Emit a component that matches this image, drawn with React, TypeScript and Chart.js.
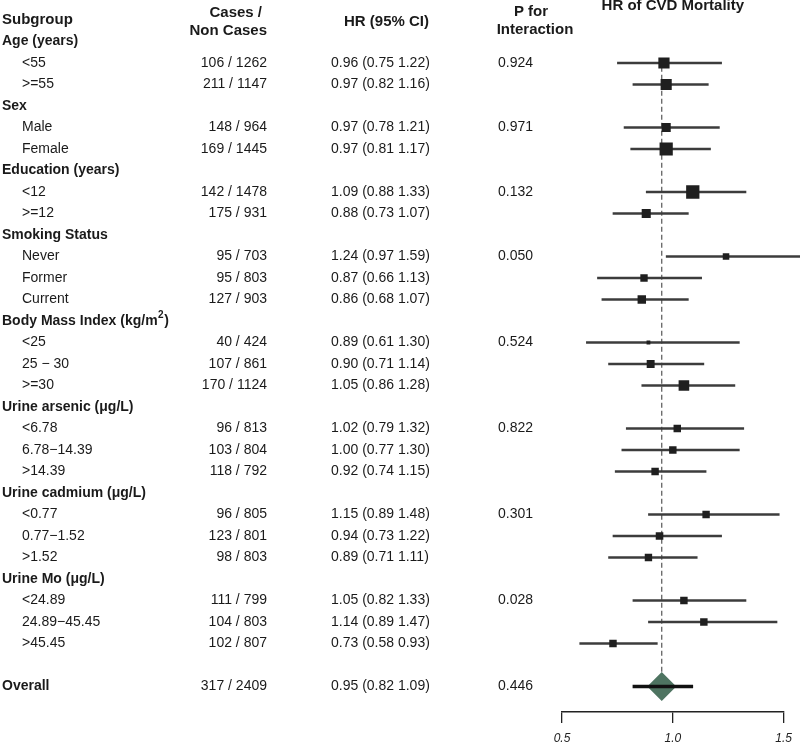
import React, { useEffect, useRef } from 'react';
import { Chart, registerables } from 'chart.js';

Chart.register(...registerables);

// ---------- data ----------
const groupNames = [
  'Age (years)',
  'Sex',
  'Education (years)',
  'Smoking Status',
  'Body Mass Index (kg/m²)',
  'Urine arsenic (μg/L)',
  'Urine cadmium (μg/L)',
  'Urine Mo (μg/L)',
];
const groupSizes = [2, 2, 2, 3, 3, 3, 3, 3];
const pInteraction = ['0.924', '0.971', '0.132', '0.050', '0.524', '0.822', '0.301', '0.028'];

const subgroups = [
  '<55', '>=55',
  'Male', 'Female',
  '<12', '>=12',
  'Never', 'Former', 'Current',
  '<25', '25 − 30', '>=30',
  '<6.78', '6.78−14.39', '>14.39',
  '<0.77', '0.77−1.52', '>1.52',
  '<24.89', '24.89−45.45', '>45.45',
];
const cases = [106, 211, 148, 169, 142, 175, 95, 95, 127, 40, 107, 170, 96, 103, 118, 96, 123, 98, 111, 104, 102];
const nonCases = [1262, 1147, 964, 1445, 1478, 931, 703, 803, 903, 424, 861, 1124, 813, 804, 792, 805, 801, 803, 799, 803, 807];
const hr = [0.96, 0.97, 0.97, 0.97, 1.09, 0.88, 1.24, 0.87, 0.86, 0.89, 0.90, 1.05, 1.02, 1.00, 0.92, 1.15, 0.94, 0.89, 1.05, 1.14, 0.73];
const lower = [0.75, 0.82, 0.78, 0.81, 0.88, 0.73, 0.97, 0.66, 0.68, 0.61, 0.71, 0.86, 0.79, 0.77, 0.74, 0.89, 0.73, 0.71, 0.82, 0.89, 0.58];
const upper = [1.22, 1.16, 1.21, 1.17, 1.33, 1.07, 1.59, 1.13, 1.07, 1.30, 1.14, 1.28, 1.32, 1.30, 1.15, 1.48, 1.22, 1.11, 1.33, 1.47, 0.93];

const overallLabel = 'Overall';
const overallCases = 317;
const overallNonCases = 2409;
const overallHR = 0.95;
const overallLower = 0.82;
const overallUpper = 1.09;
const overallP = '0.446';

const xTicks = [0.5, 1.0, 1.5];
const plotTitle = 'HR of CVD Mortality';

// ---------- row layout (built from data) ----------
type Row = { kind: 'group' | 'sub'; label: string; row: number; idx: number; p?: string };
const rows: Row[] = [];
const subRow: number[] = [];
{
  let r = 1;
  let k = 0;
  groupNames.forEach((g, gi) => {
    rows.push({ kind: 'group', label: g, row: r, idx: gi });
    r++;
    for (let j = 0; j < groupSizes[gi]; j++) {
      rows.push({ kind: 'sub', label: subgroups[k], row: r, idx: k, p: j === 0 ? pInteraction[gi] : undefined });
      subRow[k] = r;
      r++;
      k++;
    }
  });
}
const overallRow = subRow[subRow.length - 1] + 2;

const FONT = '"Liberation Sans", Arial, Helvetica, sans-serif';
const fmt = (v: number) => v.toFixed(2);

const boxSide = (n: number) => n / 122;

// draws text, rendering "²" as a raised small "2"
function drawLabel(ctx: CanvasRenderingContext2D, text: string, x: number, y: number, size: number, bold: boolean) {
  const w = bold ? 'bold ' : '';
  const parts = text.split('²');
  if (parts.length === 1) {
    ctx.font = `${w}${size}px ${FONT}`;
    ctx.fillText(text, x, y);
    return;
  }
  let cx = x;
  parts.forEach((p, i) => {
    ctx.font = `${w}${size}px ${FONT}`;
    ctx.fillText(p, cx, y);
    cx += ctx.measureText(p).width;
    if (i < parts.length - 1) {
      ctx.font = `${w}${Math.round(size * 0.68)}px ${FONT}`;
      ctx.fillText('2', cx + 0.5, y - size * 0.38);
      cx += ctx.measureText('2').width + 1;
    }
  });
}

const textPlugin = {
  id: 'forestText',
  afterDraw(chart: any) {
    const ctx: CanvasRenderingContext2D = chart.ctx;
    const ys = chart.scales.y;
    const xs = chart.scales.x;
    ctx.save();
    ctx.fillStyle = '#1a1a1a';
    ctx.textBaseline = 'middle';

    // column headers
    ctx.font = `bold 15px ${FONT}`;
    ctx.textAlign = 'left';
    ctx.fillText('Subgroup', 2, ys.getPixelForValue(0));
    ctx.textAlign = 'right';
    ctx.fillText('Cases /', 262, 13);
    ctx.fillText('Non Cases', 267, 31);
    ctx.fillText('HR (95% CI)', 429, 22);
    ctx.textAlign = 'center';
    ctx.fillText('P for', 531, 12);
    ctx.fillText('Interaction', 535, 30);
    ctx.fillText(plotTitle, xs.getPixelForValue(1.0), 6);

    // rows
    rows.forEach((r) => {
      const y = ys.getPixelForValue(r.row);
      if (r.kind === 'group') {
        ctx.textAlign = 'left';
        drawLabel(ctx, r.label, 2, y, 14, true);
      } else {
        const k = r.idx;
        ctx.font = `14px ${FONT}`;
        ctx.textAlign = 'left';
        ctx.fillText(r.label, 22, y);
        ctx.textAlign = 'right';
        ctx.fillText(`${cases[k]} / ${nonCases[k]}`, 267, y);
        ctx.textAlign = 'left';
        ctx.fillText(`${fmt(hr[k])} (${fmt(lower[k])} ${fmt(upper[k])})`, 331, y);
        if (r.p) ctx.fillText(r.p, 498, y);
      }
    });

    // overall
    const yo = ys.getPixelForValue(overallRow);
    ctx.font = `bold 14px ${FONT}`;
    ctx.textAlign = 'left';
    ctx.fillText(overallLabel, 2, yo);
    ctx.font = `14px ${FONT}`;
    ctx.textAlign = 'right';
    ctx.fillText(`${overallCases} / ${overallNonCases}`, 267, yo);
    ctx.textAlign = 'left';
    ctx.fillText(`${fmt(overallHR)} (${fmt(overallLower)} ${fmt(overallUpper)})`, 331, yo);
    ctx.fillText(overallP, 498, yo);
    ctx.restore();
  },
};

export default function App() {
  const ref = useRef<HTMLCanvasElement | null>(null);

  useEffect(() => {
    if (!ref.current) return;
    const chart = new Chart(ref.current, {
      type: 'scatter',
      data: {
        datasets: [
          {
            type: 'scatter',
            showLine: true,
            data: [
              { x: overallHR, y: 1.8 },
              { x: overallHR, y: overallRow },
            ],
            borderColor: '#555555',
            borderWidth: 1.2,
            borderDash: [5, 3],
            pointRadius: 0,
            order: 5,
          } as any,
          {
            type: 'scatter',
            data: [{ x: overallHR, y: overallRow }],
            pointStyle: 'rectRot',
            pointRadius: 14.5,
            backgroundColor: '#4e7461',
            borderWidth: 0,
            order: 4,
          } as any,
          {
            type: 'bar',
            indexAxis: 'y',
            grouped: false,
            clip: false,
            data: subgroups.map((_, k) => ({ x: [lower[k], upper[k]], y: subRow[k] })),
            backgroundColor: '#3c3c3c',
            borderWidth: 0,
            barThickness: 1.6,
            order: 2,
          } as any,
          {
            type: 'scatter',
            data: subgroups.map((_, k) => ({ x: hr[k], y: subRow[k] })),
            pointStyle: 'rect',
            pointRadius: (c: any) => boxSide(cases[c.dataIndex] + nonCases[c.dataIndex]) / Math.SQRT2,
            backgroundColor: '#1f1f1f',
            borderWidth: 0,
            order: 1,
          } as any,
          {
            type: 'bar',
            indexAxis: 'y',
            grouped: false,
            data: [{ x: [overallLower, overallUpper], y: overallRow }],
            backgroundColor: '#111111',
            borderWidth: 0,
            barThickness: 2.6,
            order: 0,
          } as any,
        ],
      },
      options: {
        animation: false,
        responsive: false,
        events: [],
        layout: { autoPadding: false, padding: { left: 562, right: 9, top: 0, bottom: 0 } },
        scales: {
          x: {
            type: 'linear',
            position: 'bottom',
            min: xTicks[0],
            max: xTicks[xTicks.length - 1],
            offset: false,
            afterBuildTicks: (s: any) => {
              s.ticks = xTicks.map((v) => ({ value: v }));
            },
            afterFit: (s: any) => {
              s.height = 39;
            },
            grid: {
              offset: false,
              drawOnChartArea: false,
              drawTicks: true,
              tickLength: 11,
              color: '#222222',
              lineWidth: 1.3,
            },
            border: { display: true, color: '#222222', width: 1.5 },
            ticks: {
              padding: 8,
              color: '#222222',
              font: { family: FONT, size: 12, style: 'italic' },
              callback: (v: any) => Number(v).toFixed(1),
            },
          },
          y: {
            type: 'linear',
            reverse: true,
            min: -0.93,
            max: 32.186,
            offset: false,
            grid: { offset: false },
            display: false,
          },
        },
        plugins: {
          legend: { display: false },
          tooltip: { enabled: false },
        },
      } as any,
      plugins: [textPlugin],
    });
    return () => chart.destroy();
  }, []);

  return (
    <div style={{ position: 'absolute', left: 0, top: 0, width: 800, height: 751, background: '#ffffff' }}>
      <canvas ref={ref} width={800} height={751} style={{ display: 'block' }} />
    </div>
  );
}
